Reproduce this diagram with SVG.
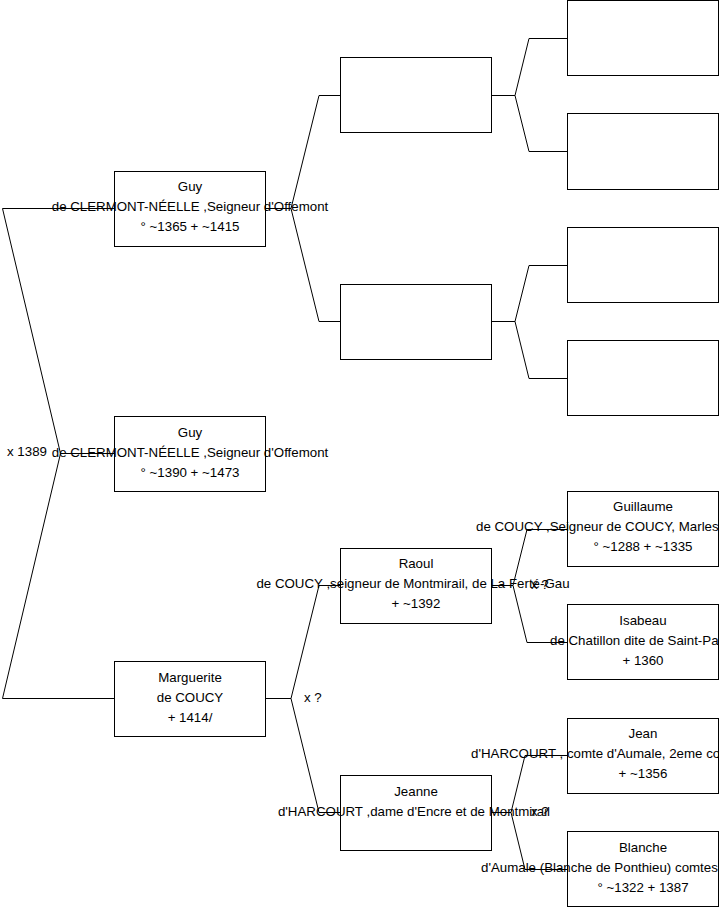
<svg xmlns="http://www.w3.org/2000/svg" width="719" height="908" viewBox="0 0 719 908">
<style>
.box{fill:#fff;stroke:#000;stroke-width:1}
text{font-family:"Liberation Sans",Arial,sans-serif;font-size:13.3px;fill:#000}
.c{text-anchor:middle}
.ln{fill:none;stroke:#000;stroke-width:1}
</style>
<rect width="719" height="908" fill="#fff"/>
<g id="n-guy1"><rect class="box" x="114.5" y="171.5" width="151" height="75"/>
<text class="c" x="190" y="191">Guy</text><text class="c" x="190" y="211">de CLERMONT-NÉELLE ,Seigneur d'Offemont</text><text class="c" x="190" y="231">° ~1365 + ~1415</text></g>
<g id="n-guy2"><rect class="box" x="114.5" y="416.5" width="151" height="75"/>
<text class="c" x="190" y="437">Guy</text><text class="c" x="190" y="457">de CLERMONT-NÉELLE ,Seigneur d'Offemont</text><text class="c" x="190" y="477">° ~1390 + ~1473</text></g>
<g id="n-marguerite"><rect class="box" x="114.5" y="661.5" width="151" height="75"/>
<text class="c" x="190" y="682">Marguerite</text><text class="c" x="190" y="702">de COUCY</text><text class="c" x="190" y="722">+ 1414/</text></g>
<g id="n-f1"><rect class="box" x="340.5" y="57.5" width="151" height="75"/></g>
<g id="n-m1"><rect class="box" x="340.5" y="284.5" width="151" height="75"/></g>
<g id="n-raoul"><rect class="box" x="340.5" y="548.5" width="151" height="75"/>
<text class="c" x="416" y="568">Raoul</text><text class="c" x="413" y="588">de COUCY ,seigneur de Montmirail, de La Ferté-Gau</text><text class="c" x="416" y="608">+ ~1392</text></g>
<g id="n-jeanne"><rect class="box" x="340.5" y="775.5" width="151" height="75"/>
<text class="c" x="416" y="796">Jeanne</text><text class="c" x="414" y="816">d'HARCOURT ,dame d'Encre et de Montmirail</text></g>
<g id="n-ff"><rect class="box" x="567.5" y="0.5" width="151" height="75"/></g>
<g id="n-fm"><rect class="box" x="567.5" y="113.5" width="151" height="76"/></g>
<g id="n-mf"><rect class="box" x="567.5" y="227.5" width="151" height="75"/></g>
<g id="n-mm"><rect class="box" x="567.5" y="340.5" width="151" height="75"/></g>
<g id="n-guillaume"><rect class="box" x="567.5" y="491.5" width="151" height="75"/>
<text class="c" x="643" y="511">Guillaume</text><text x="476" y="531">de COUCY ,Seigneur de COUCY, Marles</text><text class="c" x="643" y="551">° ~1288 + ~1335</text></g>
<g id="n-isabeau"><rect class="box" x="567.5" y="604.5" width="151" height="75"/>
<text class="c" x="643" y="625">Isabeau</text><text x="550" y="645">de Chatillon dite de Saint-Pa</text><text class="c" x="643" y="665">+ 1360</text></g>
<g id="n-jean"><rect class="box" x="567.5" y="718.5" width="151" height="75"/>
<text class="c" x="643" y="738">Jean</text><text x="471" y="758">d'HARCOURT , comte d'Aumale, 2eme co</text><text class="c" x="643" y="778">+ ~1356</text></g>
<g id="n-blanche"><rect class="box" x="567.5" y="831.5" width="151" height="75"/>
<text class="c" x="643" y="852">Blanche</text><text x="481" y="872">d'Aumale (Blanche de Ponthieu) comtes</text><text class="c" x="643" y="892">° ~1322 + 1387</text></g>
<g id="connectors">
<polyline class="ln" points="114,208.5 2.5,208.5 60.5,453.5 2.5,698.5 114,698.5"/>
<line class="ln" x1="60.5" y1="453.5" x2="114" y2="453.5"/>
<text x="7" y="456">x 1389</text>
<polyline class="ln" points="340,95.5 319,95.5 291,208.5 319,321.5 340,321.5"/>
<line class="ln" x1="265" y1="208.5" x2="291" y2="208.5"/>
<polyline class="ln" points="340,585.5 319,585.5 291,698.5 319,812.5 340,812.5"/>
<line class="ln" x1="265" y1="698.5" x2="291" y2="698.5"/>
<text x="304" y="702">x ?</text>
<polyline class="ln" points="567,38.5 529,38.5 515,95.5 529,151.5 567,151.5"/>
<line class="ln" x1="491" y1="95.5" x2="515" y2="95.5"/>
<polyline class="ln" points="567,265.5 529,265.5 515,321.5 529,378.5 567,378.5"/>
<line class="ln" x1="491" y1="321.5" x2="515" y2="321.5"/>
<polyline class="ln" points="567,529.5 527,529.5 513,585.5 527,642.5 567,642.5"/>
<line class="ln" x1="491" y1="585.5" x2="513" y2="585.5"/>
<text x="531" y="589">x ?</text>
<polyline class="ln" points="567,755.5 525,755.5 511,812.5 525,869.5 567,869.5"/>
<line class="ln" x1="491" y1="812.5" x2="511" y2="812.5"/>
<text x="531" y="816">x ?</text>
</g>
</svg>
